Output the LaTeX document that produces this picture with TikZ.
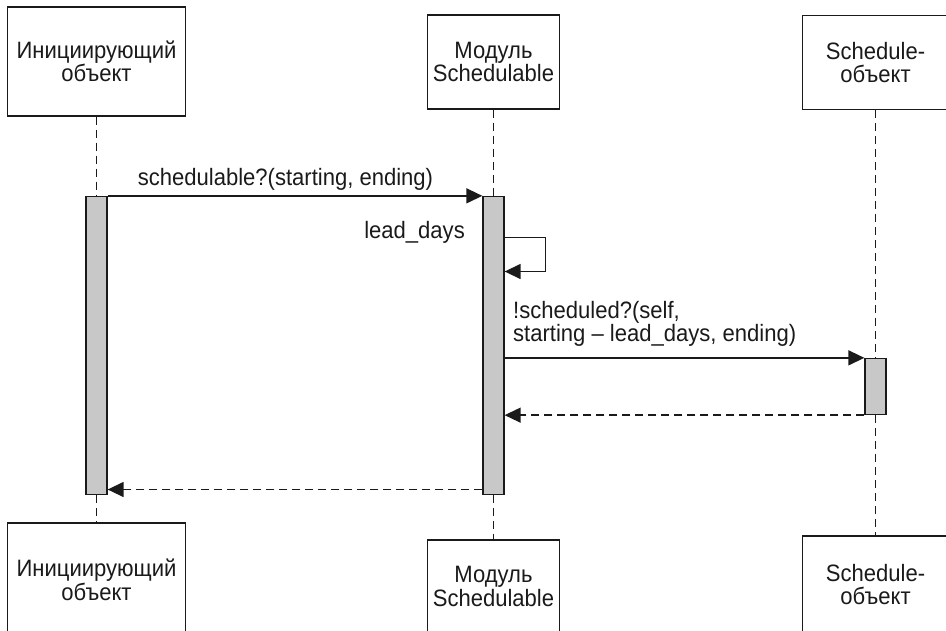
\documentclass[tikz,border=0pt]{standalone}
\usepackage{fontspec}
\setmainfont{Liberation Sans}[FakeStretch=0.93]
\usetikzlibrary{arrows.meta}
\definecolor{ink}{HTML}{1A1A1A}
\definecolor{barfill}{HTML}{C8C8C8}
\tikzset{
  txt/.style={font=\fontsize{23.7}{23.5}\selectfont, text=ink},
  actor/.style={draw=ink, line width=1.3pt, fill=white, rectangle, inner sep=0pt,
    align=center, txt},
  actbar/.style={draw=ink, line width=1.3pt, fill=barfill, rectangle, inner sep=0pt,
    minimum width=21pt},
  lifeline/.style={draw=ink, line width=1.4pt, dash pattern=on 8pt off 5pt},
  msg/.style={draw=ink, line width=1.4pt, -{Triangle[length=16pt,width=15pt]}},
  retmsg/.style={draw=ink, line width=1.4pt, dash pattern=on 8pt off 5pt,
    -{Triangle[length=16pt,width=15pt]}},
  lbl/.style={txt, inner sep=0pt},
}
\begin{document}
\begin{tikzpicture}[x=1pt, y=-1pt]
\useasboundingbox (0,0) rectangle (946,630);
\clip (0,0) rectangle (946,630);

% participants, top row
\node[actor, minimum width=178pt, minimum height=109pt] (initTop) at (96.5,61.5) {Инициирующий\\объект};
\node[actor, minimum width=132pt, minimum height=94pt] (modTop) at (493.5,62) {Модуль\\Schedulable};
\node[actor, minimum width=146pt, minimum height=94pt] (schedTop) at (875.5,62.5) {Schedule-\\объект};

% participants, bottom row (cut by the page edge)
\node[actor, minimum width=178pt, minimum height=114pt] (initBot) at (96.5,580) {Инициирующий\\объект};
\node[actor, minimum width=132pt, minimum height=93pt] (modBot) at (493.5,586.5) {Модуль\\Schedulable};
\node[actor, minimum width=146pt, minimum height=97pt] (schedBot) at (875.5,584.5) {Schedule-\\объект};

% activation bars
\node[actbar, minimum height=298pt] (barInit) at (96.5,345.5) {};
\node[actbar, minimum height=298pt] (barMod) at (493.5,345.5) {};
\node[actbar, minimum height=56pt] (barSched) at (875.5,386.5) {};

% lifelines
\draw[lifeline] (initTop.south) -- (barInit.north);
\draw[lifeline] (barInit.south) -- (initBot.north);
\draw[lifeline] (modTop.south) -- (barMod.north);
\draw[lifeline] (barMod.south) -- (modBot.north);
\draw[lifeline] (schedTop.south) -- (barSched.north);
\draw[lifeline] (barSched.south) -- (schedBot.north);

% schedulable? call
\draw[msg] (barInit.north east) -- (barMod.north west);
\node[lbl, anchor=base] (callLbl) at (285.5,185) {schedulable?(starting, ending)};

% self call lead_days
\coordinate (selfOut) at (545.5,237.5);
\coordinate (selfIn) at (545.5,271.5);
\draw[msg] (barMod.east |- selfOut) -- (selfOut) -- (selfIn) -- (barMod.east |- selfIn);
\node[lbl, anchor=base east] (selfLbl) at (465,238) {lead\_days};

% !scheduled? call and its return
\draw[msg] (barMod.east |- barSched.north) -- (barSched.north west);
\node[lbl, anchor=south west, align=left] (schedLbl) at (513,347)
  {!scheduled?(self,\\starting – lead\_days, ending)};
\draw[retmsg] (barSched.south west) -- (barMod.east |- barSched.south);

% final return
\coordinate (retY) at (0,489.5);
\draw[retmsg] (barMod.west |- retY) -- (barInit.east |- retY);
\end{tikzpicture}
\end{document}
